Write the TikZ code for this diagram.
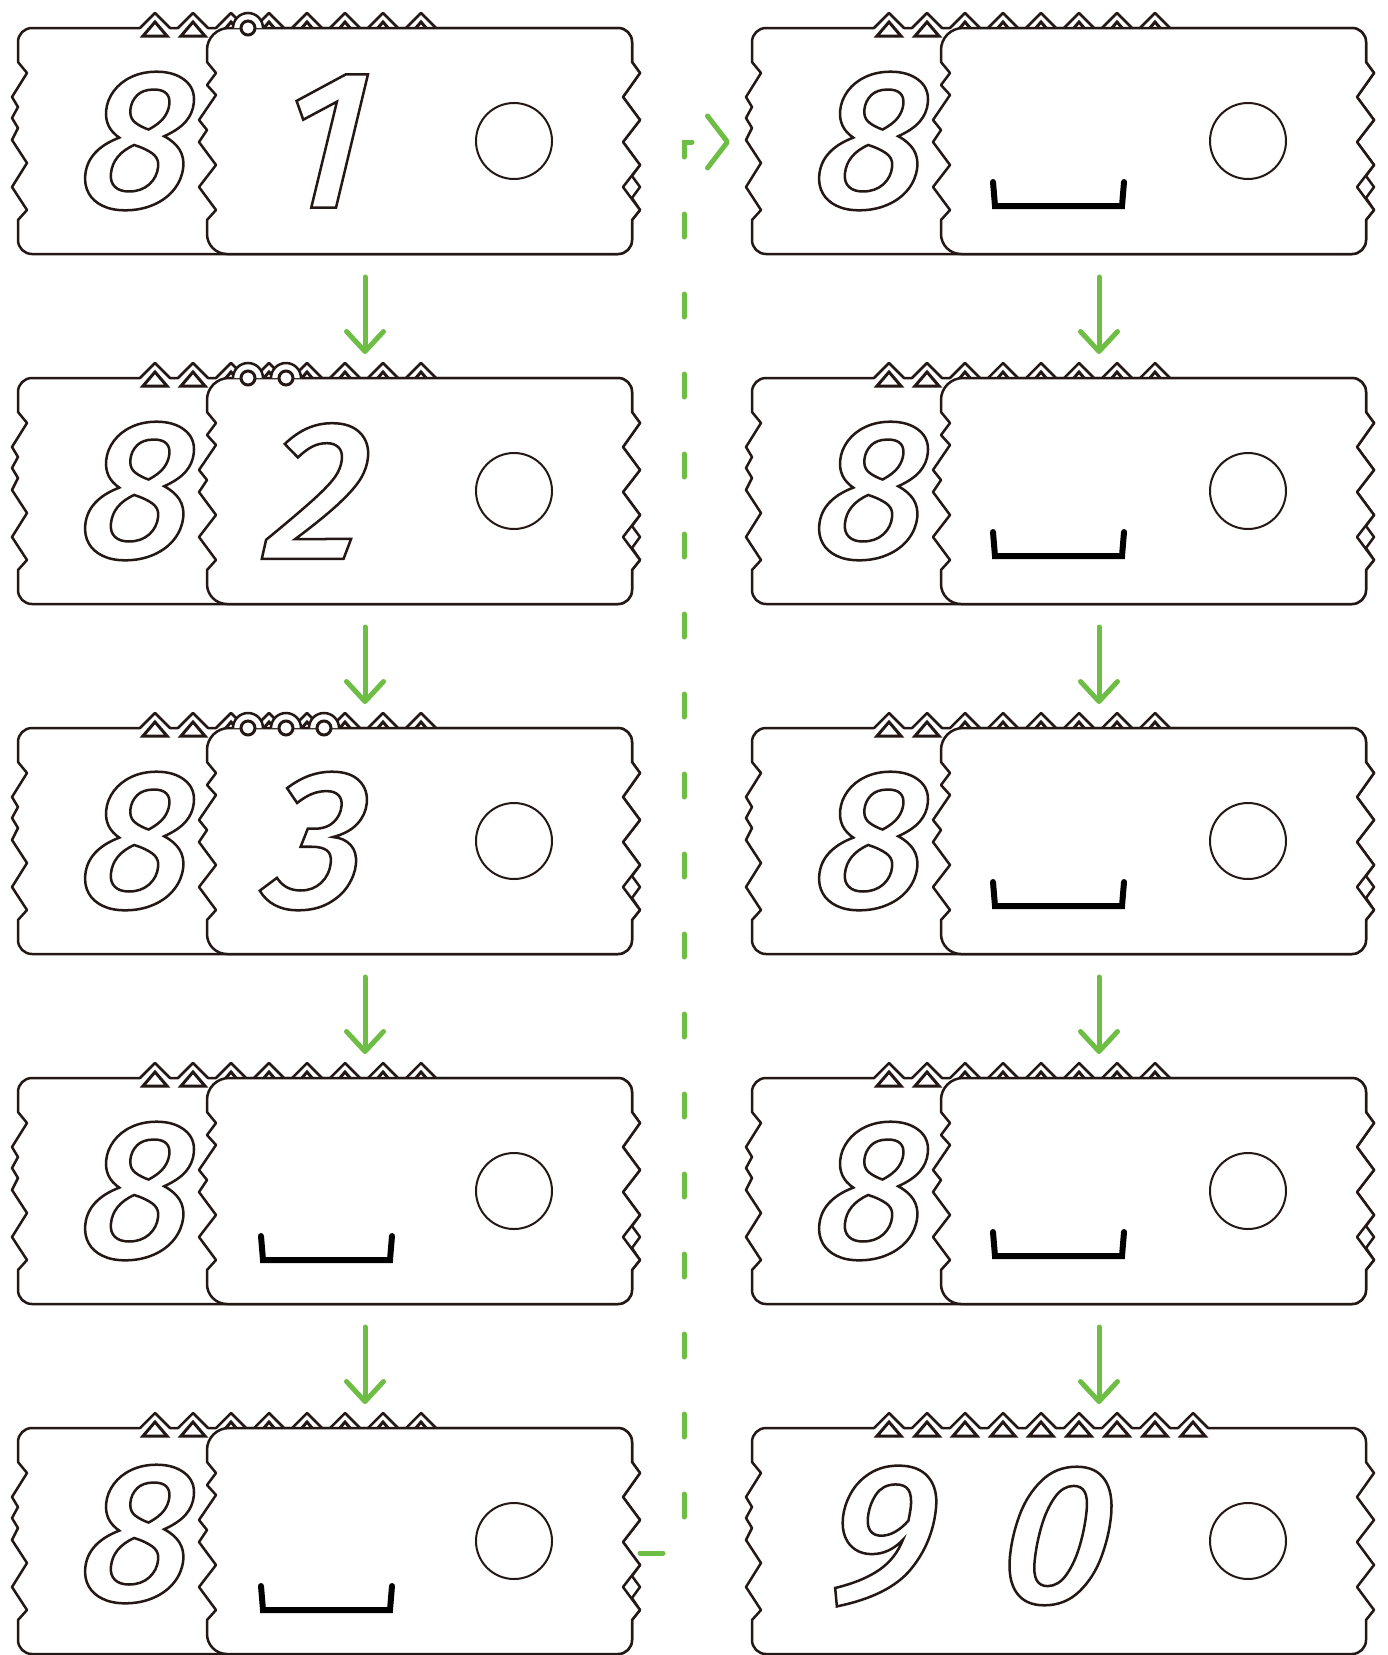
\documentclass[tikz,border=0pt]{standalone}
\usepackage{fontspec}
\usetikzlibrary{arrows.meta}
\newfontfamily\digitfont{Fira Sans Medium Italic}[FakeSlant=0.1]
\definecolor{inkblack}{RGB}{35,24,21}
\definecolor{flowgreen}{RGB}{110,189,69}
\tikzset{
  card/.style  = {draw=inkblack, fill=white, line width=2.5pt, line join=round},
  tooth/.style = {draw=inkblack, fill=white, line width=3pt, line join=miter},
  halo/.style  = {draw=inkblack, fill=white, line width=2.5pt},
  bead/.style  = {draw=inkblack, fill=white, line width=3pt},
  digit/.style = {inner sep=0pt, text=inkblack,
                  font=\digitfont\fontsize{198}{198}\selectfont},
  dot/.style   = {circle, draw=inkblack, line width=2pt, minimum size=76pt, inner sep=0pt},
  blank/.style = {draw=black, line width=6pt, line cap=round, line join=miter},
  flow/.style  = {draw=flowgreen, line width=5pt, line cap=round,
                  -{Straight Barb[length=20pt, width=37pt, round]},
                  shorten <=23pt, shorten >=24pt},
  carry/.style = {draw=flowgreen, line width=5pt, line cap=round,
                  dash pattern=on 23pt off 57pt,
                  -{Straight Barb[length=20pt, width=52pt, round]}},
}
% outlined digit (stroke only)
\newcommand\hollow[1]{\special{pdf:literal direct 1 Tr 2.5 w}#1\special{pdf:literal direct 0 Tr}}

% back card with its crown of teeth; #1 tooth tips, #2 piece of the right edge
\newcommand\backcard[2]{%
  \path[card] (18,62) -- (18,42) arc[start angle=180, end angle=270, radius=14]
    foreach \a in {#1} { -- ({\a-15},28) -- (\a,13) -- ({\a+15},28) }
    -- (618,28) arc[start angle=270, end angle=360, radius=14]
    -- (632,62) -- (640,73) -- (623,97) -- (640,120) -- (623,142) -- (640,165)
    #2 -- (640,210) -- (632,220)
    -- (632,240) arc[start angle=0, end angle=90, radius=14]
    -- (32,254) arc[start angle=90, end angle=180, radius=14]
    -- (18,220) -- (27,210) -- (12,187) -- (27,163) -- (12,140) -- (18,128)
    -- (12,118) -- (18,107) -- (12,97) -- (27,73) -- cycle;
  \foreach \a in {#1}
    \path[tooth] ({\a-12},36) -- (\a,22) -- ({\a+12},36) -- cycle;
}
% front card
\newcommand\frontcard{%
  \path[card] (207,62) -- (207,50) arc[start angle=180, end angle=270, radius=22]
    -- (618,28) arc[start angle=270, end angle=360, radius=14]
    -- (632,62) -- (640,73) -- (623,97) -- (640,120) -- (623,142) -- (640,165)
    -- (623,187) -- (640,210) -- (632,220)
    -- (632,240) arc[start angle=0, end angle=90, radius=14]
    -- (227,254) arc[start angle=90, end angle=180, radius=20]
    -- (207,220) -- (216,210) -- (199,187) -- (216,165) -- (199,142) -- (207,130)
    -- (199,120) -- (216,95) -- (207,85) -- (216,73) -- cycle;
}
% beads on the front card
\newcommand\beads[1]{%
  \foreach \k in {1,...,#1} {
    \pgfmathsetmacro\bx{248+38*(\k-1)}
    \path[halo] ({\bx-15},28) arc[start angle=180, end angle=360, radius=15];
    \path[bead] (\bx,28) circle[radius=7];
  }
}
% a pair of cards: [#1 height of the 8], #2 name, #3 beads, #4 ones place
\newcommand\cardpair[4][141]{%
  \backcard{155,193,...,421}{-- (632,176) -- (640,187) -- (632,198)}
  \frontcard
  \ifnum#3>0 \beads{#3}\fi
  \node[digit] (#2-tens) at (133,#1) {\hollow{8}};
  #4
  \node[dot] (#2-dot) at (514,141) {};
  \coordinate (#2-n) at (365,28);
  \coordinate (#2-s) at (365,254);
  \coordinate (#2-e) at (640,153);
  \coordinate (#2-w) at (-4,142);
}

\begin{document}
\begin{tikzpicture}[x=1pt, y=-1pt]
  \useasboundingbox (0,0) rectangle (1388,1655);

  % Left column
  \begin{scope}[shift={(0,0)}]
    \cardpair{L1}{1}{\node[digit] (L1-ones) at (318,141) {\hollow{1}};}
  \end{scope}
  \begin{scope}[shift={(0,350)}]
    \cardpair{L2}{2}{\node[digit] (L2-ones) at (312,141) {\hollow{2}};}
  \end{scope}
  \begin{scope}[shift={(0,700)}]
    \cardpair{L3}{3}{\node[digit] (L3-ones) at (312,141) {\hollow{3}};}
  \end{scope}
  \begin{scope}[shift={(0,1050)}]
    \cardpair{L4}{0}{\path[blank] (261,186) -- (263,210) -- (390,210) -- (392,186);}
  \end{scope}
  \begin{scope}[shift={(0,1400)}]
    \cardpair[134]{L5}{0}{\path[blank] (261,186) -- (263,210) -- (390,210) -- (392,186);}
  \end{scope}

  % Right column
  \begin{scope}[shift={(734,0)}]
    \cardpair{R1}{0}{\path[blank] (259,182) -- (261,206) -- (388,206) -- (390,182);}
  \end{scope}
  \begin{scope}[shift={(734,350)}]
    \cardpair{R2}{0}{\path[blank] (259,182) -- (261,206) -- (388,206) -- (390,182);}
  \end{scope}
  \begin{scope}[shift={(734,700)}]
    \cardpair{R3}{0}{\path[blank] (259,182) -- (261,206) -- (388,206) -- (390,182);}
  \end{scope}
  \begin{scope}[shift={(734,1050)}]
    \cardpair{R4}{0}{\path[blank] (259,182) -- (261,206) -- (388,206) -- (390,182);}
  \end{scope}

  % Result card
  \begin{scope}[shift={(734,1400)}]
    \backcard{155,193,...,459}{-- (623,187)}
    \node[digit] (R5-tens) at (142,136) {\hollow{9}};
    \node[digit] (R5-ones) at (318,136) {\hollow{0}};
    \node[dot] (R5-dot) at (514,141) {};
    \coordinate (R5-n) at (365,28);
  \end{scope}

  % Steps
  \draw[flow] (L1-s) -- (L2-n);
  \draw[flow] (L2-s) -- (L3-n);
  \draw[flow] (L3-s) -- (L4-n);
  \draw[flow] (L4-s) -- (L5-n);
  \draw[flow] (R1-s) -- (R2-n);
  \draw[flow] (R2-s) -- (R3-n);
  \draw[flow] (R3-s) -- (R4-n);
  \draw[flow] (R4-s) -- (R5-n);

  % Carry over to the right column
  \draw[carry] (L5-e) -- ++(44,0) |- (R1-w);
\end{tikzpicture}
\end{document}
